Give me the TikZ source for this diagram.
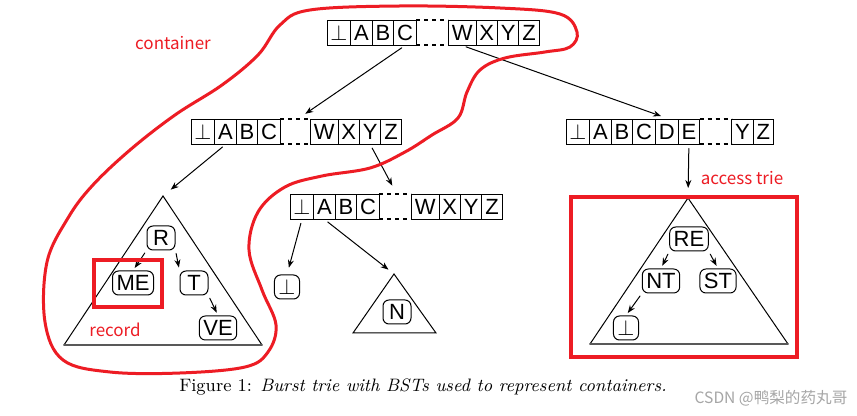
\documentclass[tikz,border=0pt]{standalone}
\usepackage{fontspec}
\newfontfamily\cellfont{Liberation Sans}
\newfontfamily\cjk{Noto Sans CJK SC}
\usetikzlibrary{positioning, arrows.meta, calc}
\definecolor{markred}{RGB}{237,28,36}

\tikzset{
  cell/.style={draw, outer sep=0pt, inner xsep=1.7pt, inner ysep=0pt,
    minimum height=12.5pt, minimum width=10pt, font=\cellfont\fontsize{11}{13}\selectfont},
  gapline/.style={line width=1pt, line cap=butt, dash pattern=on 2pt off 2pt},
  tnode/.style={draw, rounded corners=3pt, inner xsep=2pt, inner ysep=0pt,
    minimum height=12pt, minimum width=14pt, font=\cellfont\fontsize{11}{13}\selectfont},
  ptr/.style={-{Stealth[length=4pt, width=3pt]}, shorten <=2pt, shorten >=5pt},
  tptr/.style={-{Stealth[length=4pt, width=3pt]}, shorten <=1.5pt, shorten >=1.5pt},
  base/.style={line width=0.9pt, black!65},
  note/.style={markred, font=\cjk\fontsize{8.5}{10}\selectfont},
  hl/.style={markred, line width=2pt},
}

\begin{document}
\begin{tikzpicture}[x=0.5pt, y=-0.5pt, line width=0.5pt, line cap=round]
  \fill[white] (0,0) rectangle (857,416);
  \useasboundingbox (0,0) rectangle (857,416);

  % root array
  \node[cell, anchor=west] (root0) at (327,33) {$\bot$};
  \foreach \c/\gap [count=\i, remember=\i as \p (initially 0)] in {A/0,B/0,C/0,W/16,X/0,Y/0,Z/0}
    \node[cell, right=\gap pt of root\p] (root\i) {\c};
  \draw[gapline] (root3.north east) -- (root4.north west);
  \draw[gapline] (root3.south east) -- (root4.south west);

  % left child array
  \node[cell, anchor=west] (left0) at (191,132) {$\bot$};
  \foreach \c/\gap [count=\i, remember=\i as \p (initially 0)] in {A/0,B/0,C/0,W/15,X/0,Y/0,Z/0}
    \node[cell, right=\gap pt of left\p] (left\i) {\c};
  \draw[gapline] (left3.north east) -- (left4.north west);
  \draw[gapline] (left3.south east) -- (left4.south west);

  % right child array
  \node[cell, anchor=west] (right0) at (566,132) {$\bot$};
  \foreach \c/\gap [count=\i, remember=\i as \p (initially 0)] in {A/0,B/0,C/0,D/0,E/0,Y/16,Z/0}
    \node[cell, right=\gap pt of right\p] (right\i) {\c};
  \draw[gapline] (right5.north east) -- (right6.north west);
  \draw[gapline] (right5.south east) -- (right6.south west);

  % middle array
  \node[cell, anchor=west] (mid0) at (290,207) {$\bot$};
  \foreach \c/\gap [count=\i, remember=\i as \p (initially 0)] in {A/0,B/0,C/0,W/16,X/0,Y/0,Z/0}
    \node[cell, right=\gap pt of mid\p] (mid\i) {\c};
  \draw[gapline] (mid3.north east) -- (mid4.north west);
  \draw[gapline] (mid3.south east) -- (mid4.south west);

  % container triangles
  \coordinate (lapex) at (163,196); \coordinate (lbl) at (64,345); \coordinate (lbr) at (262,345);
  \draw (lbl) -- (lapex) -- (lbr); \draw[base] (lbl) -- (lbr);
  \coordinate (napex) at (394,274); \coordinate (nbl) at (353,333); \coordinate (nbr) at (436,333);
  \draw (nbl) -- (napex) -- (nbr) -- cycle;
  \coordinate (rapex) at (688,198); \coordinate (rbl) at (590,344); \coordinate (rbr) at (788,344);
  \draw (rbl) -- (rapex) -- (rbr); \draw[base] (rbl) -- (rbr);

  % BST nodes
  \node[tnode] (R) at (161,238) {R};
  \node[tnode] (ME) at (133,283) {ME};
  \node[tnode] (T) at (194,283) {T};
  \node[tnode] (VE) at (218,328) {VE};
  \node[tnode, minimum width=12pt, minimum height=12pt] (leaf) at (287,287) {$\bot$};
  \node[tnode] (N) at (397,312) {N};
  \node[tnode] (RE) at (689,239) {RE};
  \node[tnode] (NT) at (661,281) {NT};
  \node[tnode] (ST) at (718,281) {ST};
  \node[tnode, minimum width=12pt] (nil) at (626,328) {$\bot$};

  % pointers
  \draw[ptr] (root3.south) -- ($(left0.north)!0.5!(left7.north)$);
  \draw[ptr] (root4.south) -- ($(right0.north)!0.5!(right7.north)$);
  \draw[ptr] (left1.south) -- (lapex);
  \draw[ptr] (left6.south) -- ($(mid0.north)!0.5!(mid7.north)$);
  \draw[ptr] (right5.south) -- (rapex);
  \draw[ptr, shorten >=3.5pt] (mid0.south) -- (leaf.north);
  \draw[ptr, shorten >=3.5pt] (mid1.south) -- (napex);
  \draw[tptr] (R.south west) -- (ME.north);
  \draw[tptr] (R.south east) -- (T.north west);
  \draw[tptr] (T.south east) -- (VE.north);
  \draw[tptr] (RE.south west) -- (NT.north);
  \draw[tptr] (RE.south east) -- (ST.north);
  \draw[tptr] (NT.south west) -- (nil.north);

  % red marks
  \draw[markred, line width=1.5pt] plot[smooth cycle, tension=0.6] coordinates {
    (310,10) (400,6) (500,8) (560,14) (577,32) (570,47) (545,52) (505,58) (480,70)
    (467,92) (458,118) (432,135) (405,152) (370,168) (322,176) (285,187) (258,212)
    (249,250) (262,290) (276,325) (268,352) (245,367) (180,373) (110,372) (63,360)
    (45,322) (47,262) (68,218) (92,186) (130,150) (175,115) (222,85) (258,55) (280,25)};
  \draw[hl] (94,260) rectangle (162,307);
  \draw[hl] (571,197) rectangle (797,357);
  \node[note] (container) at (173,43) {container};
  \node[note] (record) at (115,330) {record};
  \node[note] (access) at (742,178) {access trie};

  \node[font=\fontsize{9}{11}\selectfont] (caption) at (423,387)
    {Figure 1: \textit{Burst trie with BSTs used to represent containers.}};
  \node[gray!70, font=\cjk\fontsize{7.8}{9}\selectfont] (mark) at (771,398) {CSDN @鸭梨的药丸哥};
\end{tikzpicture}
\end{document}
